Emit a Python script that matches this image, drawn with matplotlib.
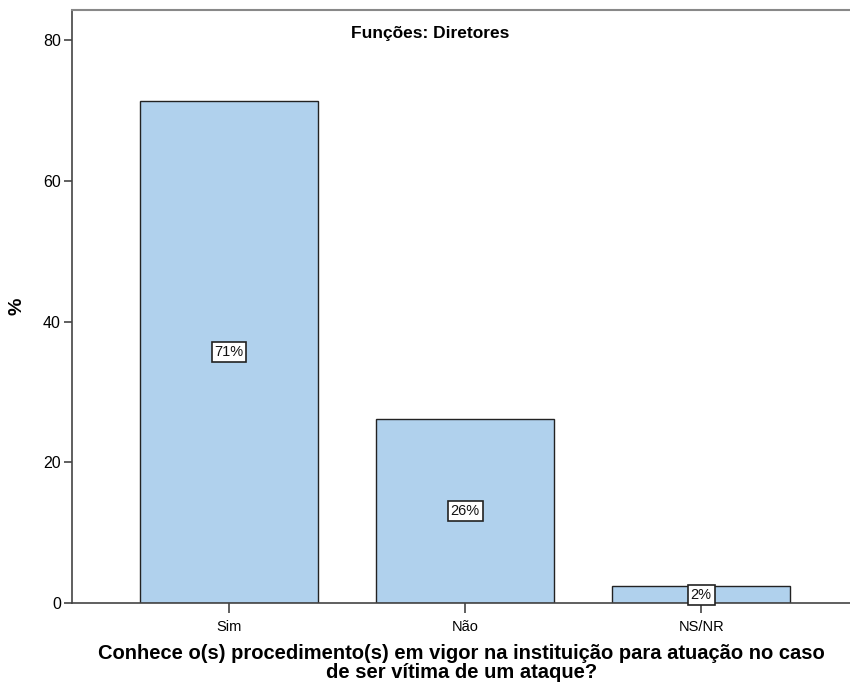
import matplotlib
matplotlib.use("Agg")
import matplotlib.pyplot as plt

# data
categories = ["Sim", "Não", "NS/NR"]
percent = [71.4, 26.2, 2.4]
labels = ["71%", "26%", "2%"]
yticks = [0, 20, 40, 60, 80]

plt.rcParams['font.family'] = ['Liberation Sans', 'DejaVu Sans']

fig = plt.figure(figsize=(8.5, 6.88), dpi=100)
ax = fig.add_axes([0.0847, 0.1235, 0.9153, 0.862])

x = list(range(len(categories)))
ax.bar(x, percent, width=0.755, color="#b0d1ed", edgecolor="#222222", linewidth=1.0, zorder=2)

# value boxes in the middle of each bar
for xi, v, lab in zip(x, percent, labels):
    ax.text(xi, v / 2, lab, ha="center", va="center", fontsize=10.5, color="#111111",
            bbox=dict(boxstyle="square,pad=0.2", fc="white", ec="#222222", lw=1.2), zorder=3)

ax.set_xlim(-0.665, 2.63)
ax.set_ylim(0, 84.3)
ax.set_xticks(x)
ax.set_xticklabels(categories, fontsize=10.5)
ax.set_yticks(yticks)
ax.tick_params(axis="y", labelsize=11.5, length=6, width=1.2, color="#444444", pad=2)
ax.tick_params(axis="x", length=7, width=1.2, color="#444444", pad=5)

ax.spines["right"].set_visible(False)
ax.spines["top"].set_color("#888888")
ax.spines["top"].set_linewidth(1.5)
for s in ["left", "bottom"]:
    ax.spines[s].set_color("#444444")
    ax.spines[s].set_linewidth(1.2)

ax.text(0.461, 0.961, "Funções: Diretores", transform=ax.transAxes, ha="center", va="center",
        fontsize=12.5, fontweight="bold")

ax.set_ylabel("%", fontsize=14, fontweight="bold")
ax.yaxis.set_label_coords(-0.06, 0.5)
ax.set_xlabel("Conhece o(s) procedimento(s) em vigor na instituição para atuação no caso\nde ser vítima de um ataque?",
              fontsize=14.5, fontweight="bold", linespacing=1.02)
ax.xaxis.set_label_coords(0.501, -0.069)
ax.xaxis.label.set_va("top")

fig.savefig("out.png", dpi=100)
